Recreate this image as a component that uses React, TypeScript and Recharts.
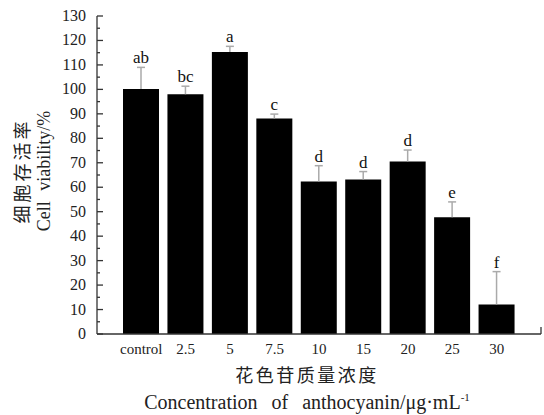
import * as R from 'recharts';
import { BarChart, Bar, XAxis, YAxis, LabelList, Label } from 'recharts';

const categories = ['control', '2.5', '5', '7.5', '10', '15', '20', '25', '30'];
const viability = [100.2, 98, 115.3, 88.1, 62.3, 63.2, 70.5, 47.7, 12.1];
const errorUp = [8.8, 3.3, 2.3, 1.8, 6.5, 3.2, 4.7, 6.3, 13.4];
const letters = ['ab', 'bc', 'a', 'c', 'd', 'd', 'd', 'e', 'f'];
const yTicks = [0, 5, 10, 15, 20, 25, 30, 35, 40, 45, 50, 55, 60, 65, 70, 75, 80, 85, 90, 95, 100, 105, 110, 115, 120, 125, 130];

const data = categories.map((name, i) => ({
  name,
  value: viability[i],
  sig: letters[i],
}));

const SERIF = '"Liberation Serif", "DejaVu Serif", serif';
const CJK = '"Noto Sans CJK SC", sans-serif';
const AXIS = '#333';

// y ticks point into the plot; labels only on multiples of 10
function YTick(props: any) {
  const { x, y, payload } = props;
  const v = payload.value;
  const major = v % 10 === 0;
  const axisX = x + 10;
  return (
    <g>
      <line x1={axisX} x2={axisX + (major ? 6 : 3)} y1={y} y2={y} stroke={AXIS} strokeWidth={1.3} />
      {major && (
        <text x={x - 1} y={y} dy={5} textAnchor="end" fontFamily={SERIF} fontSize={16} fill="#222">
          {v}
        </text>
      )}
    </g>
  );
}

function XTick(props: any) {
  const { x, y, payload } = props;
  return (
    <text x={x} y={y} dy={12} textAnchor="middle" fontFamily={SERIF} fontSize={15} fill="#222">
      {payload.value}
    </text>
  );
}

// upper error whisker plus the significance letter above it
function SigLabel(props: any) {
  const { x, y, width, height, index, value } = props;
  const perUnit = height / viability[index];
  const top = y - errorUp[index] * perUnit;
  const cx = x + width / 2;
  return (
    <g>
      <line x1={cx} x2={cx} y1={y} y2={top} stroke="#aaa" strokeWidth={1.5} />
      <line x1={cx - 4} x2={cx + 4} y1={top} y2={top} stroke="#aaa" strokeWidth={1.5} />
      <text x={cx} y={top - 4} textAnchor="middle" fontFamily={SERIF} fontSize={17} fill="#111">
        {value}
      </text>
    </g>
  );
}

function XTitle(props: any) {
  const { viewBox } = props;
  const cx = viewBox.x + viewBox.width / 2 - 12;
  const y0 = viewBox.y;
  return (
    <g>
      <text x={cx} y={y0 + 48} textAnchor="middle" fontFamily={CJK} fontSize={18} letterSpacing={2.5} fill="#222">
        花色苷质量浓度
      </text>
      <text x={cx} y={y0 + 75} textAnchor="middle" fontFamily={SERIF} fontSize={20} wordSpacing={9} fill="#222">
        Concentration of anthocyanin/μg·mL<tspan dy={-8} fontSize={11}>-1</tspan>
      </text>
    </g>
  );
}

function YTitle(props: any) {
  const { viewBox } = props;
  const cy = viewBox.y + viewBox.height / 2 - 4;
  return (
    <g>
      <text x={22} y={cy} transform={`rotate(-90 22 ${cy})`} dy={7} textAnchor="middle" fontFamily={CJK} fontSize={18} letterSpacing={3} fill="#222">
        细胞存活率
      </text>
      <text x={44} y={cy} transform={`rotate(-90 44 ${cy})`} dy={6} textAnchor="middle" fontFamily={SERIF} fontSize={18} wordSpacing={6} fill="#222">
        Cell viability/%
      </text>
    </g>
  );
}

// short upright mark closing the x axis on the right
function AxisEnd() {
  const usePlotArea = (R as any).usePlotArea;
  const area = usePlotArea ? usePlotArea() : null;
  if (!area) return null;
  const xr = area.x + area.width;
  const yb = area.y + area.height;
  return <line x1={xr} x2={xr} y1={yb} y2={yb - 7} stroke={AXIS} strokeWidth={1.3} />;
}

export default function App() {
  return (
    <div style={{ position: 'absolute', left: 0, top: 0, width: 544, height: 415, background: '#fff' }}>
      <BarChart width={544} height={415} data={data} margin={{ top: 16, right: 3, bottom: 51, left: 37 }} barSize={36}>
        <XAxis
          dataKey="name"
          padding={{ left: 22, right: 22 }}
          tickLine={false}
          axisLine={{ stroke: AXIS, strokeWidth: 1.3 }}
          tick={<XTick />}
          height={30}
          interval={0}
        >
          <Label content={<XTitle />} position="bottom" />
        </XAxis>
        <YAxis
          domain={[0, 130]}
          ticks={yTicks}
          interval={0}
          width={60}
          tickSize={0}
          tickMargin={10}
          tickLine={false}
          axisLine={{ stroke: AXIS, strokeWidth: 1.3 }}
          tick={<YTick />}
        >
          <Label content={<YTitle />} position="left" />
        </YAxis>
        <Bar dataKey="value" fill="#000" isAnimationActive={false}>
          <LabelList dataKey="sig" content={<SigLabel />} />
        </Bar>
        <AxisEnd />
      </BarChart>
    </div>
  );
}
